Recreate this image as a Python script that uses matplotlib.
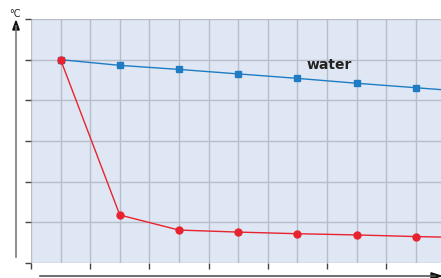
import matplotlib
matplotlib.use("Agg")
import matplotlib.pyplot as plt
from matplotlib.lines import Line2D
from matplotlib.patches import Polygon

time = [0, 2, 4, 6, 8, 10, 12, 14]
water = [50, 48.6, 47.6, 46.5, 45.4, 44.2, 43.1, 42.0]
other = [50, 11.8, 8.1, 7.6, 7.2, 6.9, 6.5, 6.2]
series_label = "water"
y_unit = "°C"

W, H = 441, 278
fig = plt.figure(figsize=(W/100, H/100), dpi=100)
ax = fig.add_axes([31/W, 1-263/H, 410/W, 244/H])
ax.set_facecolor("#dfe7f4")
ax.set_xlim(-1, -1 + 410/29.6)
ax.set_ylim(0, 60)
gridc = "#b9bdc7"
for x in range(-1, 13):
    ax.axvline(x, color=gridc, lw=1.0, zorder=1)
for y in range(0, 61, 10):
    ax.axhline(y, color=gridc, lw=1.0, zorder=1)
for s in ax.spines.values():
    s.set_visible(False)
ax.set_yticks(range(0, 61, 10))
ax.set_xticks(range(-1, 13, 2))
ax.set_yticklabels([])
ax.set_xticklabels([])
ax.tick_params(axis="y", length=4, width=1, color="#444444", direction="out")
ax.tick_params(axis="x", length=4, width=1, color="#444444", direction="out")

ax.plot(time, water, color="#1f7cc4", lw=1.0, zorder=3)
ax.plot(time, other, color="#e8232e", lw=1.0, zorder=3)
ax.plot(time, water, ls="none", color="#1f7cc4", marker="s", ms=4, zorder=4, clip_on=False)
ax.plot(time, other, ls="none", color="#e8232e", marker="o", ms=5, zorder=4, clip_on=False)
ax.text(8.3, 48.6, series_label, fontsize=10, fontweight="bold", color="#222222",
        va="center", ha="left")

def px(x, y):
    return (x / W, 1 - y / H)

# y axis arrow
fig.add_artist(Line2D([16/W, 16/W], [1-257/H, 1-26/H], color="#7a7a7a", lw=1.2))
fig.add_artist(Polygon([px(16, 21), px(12.8, 30), px(19.2, 30)], closed=True,
                       color="#111111", transform=fig.transFigure))
# x axis arrow
fig.add_artist(Line2D([40/W, 435/W], [1-276/H, 1-276/H], color="#555555", lw=1.2))
fig.add_artist(Polygon([px(441, 276), px(431, 272.8), px(431, 279.2)], closed=True,
                       color="#111111", transform=fig.transFigure))
fig.text(15/W, 1-14/H, y_unit, fontsize=7, color="#222222", ha="center", va="center")

fig.savefig("out.png", dpi=100)
